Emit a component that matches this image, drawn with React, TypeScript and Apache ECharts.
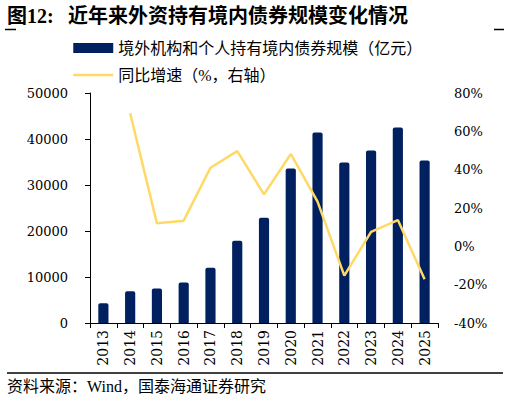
import React, { useEffect, useRef } from 'react';
import * as echarts from 'echarts';

const years = ['2013', '2014', '2015', '2016', '2017', '2018', '2019', '2020', '2021', '2022', '2023', '2024', '2025'];
// 境外机构和个人持有境内债券规模（亿元）
const holdings = [4300, 6900, 7500, 8800, 12000, 17900, 22900, 33600, 41400, 34900, 37500, 42500, 35300];
// 同比增速（%）
const growth = [null, 69.4, 12.0, 13.4, 41.0, 49.7, 27.1, 48.2, 23.3, -15.3, 7.5, 13.7, -17.2];

const barName = '境外机构和个人持有境内债券规模（亿元）';
const lineName = '同比增速（%，右轴）';

const numFont = "'DejaVu Serif', serif";
const cjkFont = "'Liberation Serif', 'Noto Sans CJK SC', sans-serif";

const App: React.FC = () => {
  const chartRef = useRef<HTMLDivElement>(null);

  useEffect(() => {
    if (!chartRef.current) return;
    const chart = echarts.init(chartRef.current, undefined, { renderer: 'svg' });

    chart.setOption({
      animation: false,
      backgroundColor: '#fff',
      grid: { left: 90, right: 71, top: 93, bottom: 80 },
      legend: {
        orient: 'vertical',
        left: 67,
        top: 35,
        itemWidth: 40,
        itemHeight: 10,
        itemGap: 11,
        data: [
          { name: barName, icon: 'rect' },
          { name: lineName, itemStyle: { opacity: 0 }, lineStyle: { width: 2.5, color: '#FFD966' } },
        ],
        textStyle: { fontFamily: cjkFont, fontSize: 16, color: '#000' },
      },
      xAxis: {
        type: 'category',
        data: years,
        axisLine: { lineStyle: { color: '#000', width: 1 } },
        axisTick: { show: true, length: 5, lineStyle: { color: '#000' } },
        axisLabel: { rotate: 90, fontFamily: numFont, fontSize: 14, color: '#000', margin: 7 },
      },
      yAxis: [
        {
          type: 'value',
          min: 0,
          max: 50000,
          interval: 10000,
          axisLine: { show: true, lineStyle: { color: '#000', width: 1 } },
          axisTick: { show: true, length: 5, lineStyle: { color: '#000' } },
          splitLine: { show: false },
          axisLabel: {
            formatter: (v: number) => String(v),
            fontFamily: numFont,
            fontSize: 13,
            color: '#000',
            margin: 22,
          },
        },
        {
          type: 'value',
          position: 'right',
          min: -40,
          max: 80,
          interval: 20,
          axisLine: { show: false },
          axisTick: { show: false },
          splitLine: { show: false },
          axisLabel: { formatter: '{value}%', fontFamily: numFont, fontSize: 13, color: '#000', margin: 16 },
        },
      ],
      series: [
        {
          name: barName,
          type: 'bar',
          data: holdings,
          barWidth: '38%',
          itemStyle: { color: '#002060', borderRadius: [2, 2, 0, 0] },
        },
        {
          name: lineName,
          type: 'line',
          yAxisIndex: 1,
          data: growth,
          symbol: 'none',
          lineStyle: { color: '#FFD966', width: 2.5 },
          itemStyle: { color: '#FFD966' },
        },
      ],
      graphic: [
        {
          type: 'text',
          left: 7,
          top: 6,
          style: { text: '图12:', font: `bold 20px ${cjkFont}`, fill: '#000' },
        },
        {
          type: 'text',
          left: 68,
          top: 6,
          style: { text: '近年来外资持有境内债券规模变化情况', font: `bold 20px ${cjkFont}`, fill: '#000' },
        },
        { type: 'line', shape: { x1: 5, y1: 29.5, x2: 16, y2: 29.5 }, style: { stroke: '#000', lineWidth: 1.5 } },
        { type: 'line', shape: { x1: 494, y1: 29.5, x2: 504, y2: 29.5 }, style: { stroke: '#000', lineWidth: 1.5 } },
        { type: 'line', shape: { x1: 7, y1: 373, x2: 503, y2: 373 }, style: { stroke: '#000', lineWidth: 1.5 } },
        {
          type: 'text',
          left: 7,
          top: 378,
          style: { text: '资料来源：Wind，国泰海通证券研究', font: `16px ${cjkFont}`, fill: '#000' },
        },
      ],
    });

    return () => {
      chart.dispose();
    };
  }, []);

  return (
    <div
      ref={chartRef}
      style={{ position: 'fixed', left: 0, top: 0, width: '509px', height: '403px' }}
    ></div>
  );
};

export default App;
